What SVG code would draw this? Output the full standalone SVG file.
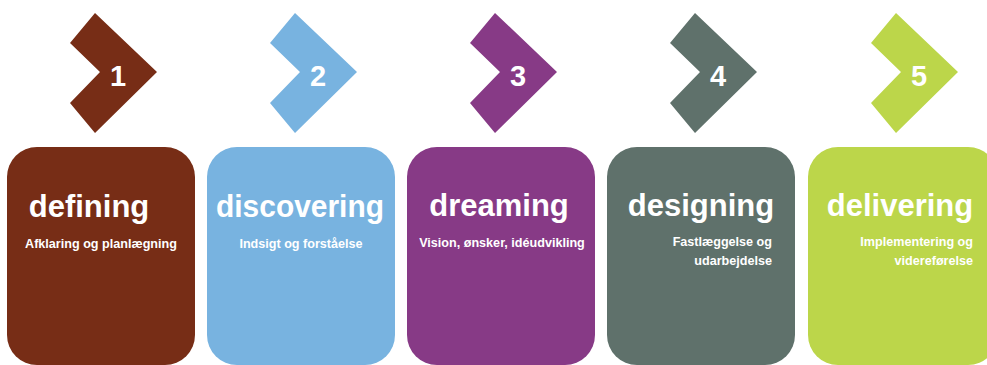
<svg xmlns="http://www.w3.org/2000/svg" width="987" height="365" viewBox="0 0 987 365">
<defs>
<style>
.num{font-family:"Liberation Sans",Arial,sans-serif;font-weight:bold;font-size:29px;fill:#fff;text-anchor:middle}
.title{font-family:"Liberation Sans",Arial,sans-serif;font-weight:bold;font-size:31px;fill:#fff;text-anchor:middle}
.sub{font-family:"Liberation Sans",Arial,sans-serif;font-weight:bold;font-size:12.6px;fill:#fff}
.mid{text-anchor:middle}
.end{text-anchor:end}
</style>
<path id="chev" d="M0,0 L62,59 L0,120 L-25,90 L5,59 L-25,30 Z"/>
</defs>
<rect width="987" height="365" fill="#fff"/>
<g id="step1">
<use href="#chev" x="95" y="13" fill="#772d16"/>
<text class="num" x="118" y="86">1</text>
<rect x="7" y="147" width="188" height="218" rx="30" fill="#772d16"/>
<text class="title" x="89" y="217">defining</text>
<text class="sub mid" x="101" y="248">Afklaring og planlægning</text>
</g>
<g id="step2">
<use href="#chev" x="295" y="13" fill="#78b3e0"/>
<text class="num" x="318" y="86">2</text>
<rect x="207" y="147" width="188" height="218" rx="30" fill="#78b3e0"/>
<text class="title" x="300" y="217" textLength="168" lengthAdjust="spacingAndGlyphs">discovering</text>
<text class="sub mid" x="301" y="248">Indsigt og forståelse</text>
</g>
<g id="step3">
<use href="#chev" x="495" y="13" fill="#873a86"/>
<text class="num" x="518" y="86">3</text>
<rect x="407" y="147" width="188" height="218" rx="30" fill="#873a86"/>
<text class="title" x="499" y="216">dreaming</text>
<text class="sub mid" x="502" y="247">Vision, ønsker, idéudvikling</text>
</g>
<g id="step4">
<use href="#chev" x="695" y="13" fill="#5f716b"/>
<text class="num" x="718" y="86">4</text>
<rect x="607" y="147" width="188" height="218" rx="30" fill="#5f716b"/>
<text class="title" x="701" y="216">designing</text>
<text class="sub end" x="772" y="246">Fastlæggelse og</text>
<text class="sub end" x="772" y="265">udarbejdelse</text>
</g>
<g id="step5">
<use href="#chev" x="896" y="13" fill="#bcd64a"/>
<text class="num" x="919" y="86">5</text>
<rect x="808" y="147" width="190" height="218" rx="30" fill="#bcd64a"/>
<text class="title" x="900" y="216">delivering</text>
<text class="sub end" x="973" y="246">Implementering og</text>
<text class="sub end" x="973" y="265">videreførelse</text>
</g>
<g id="connectors"/>
</svg>
